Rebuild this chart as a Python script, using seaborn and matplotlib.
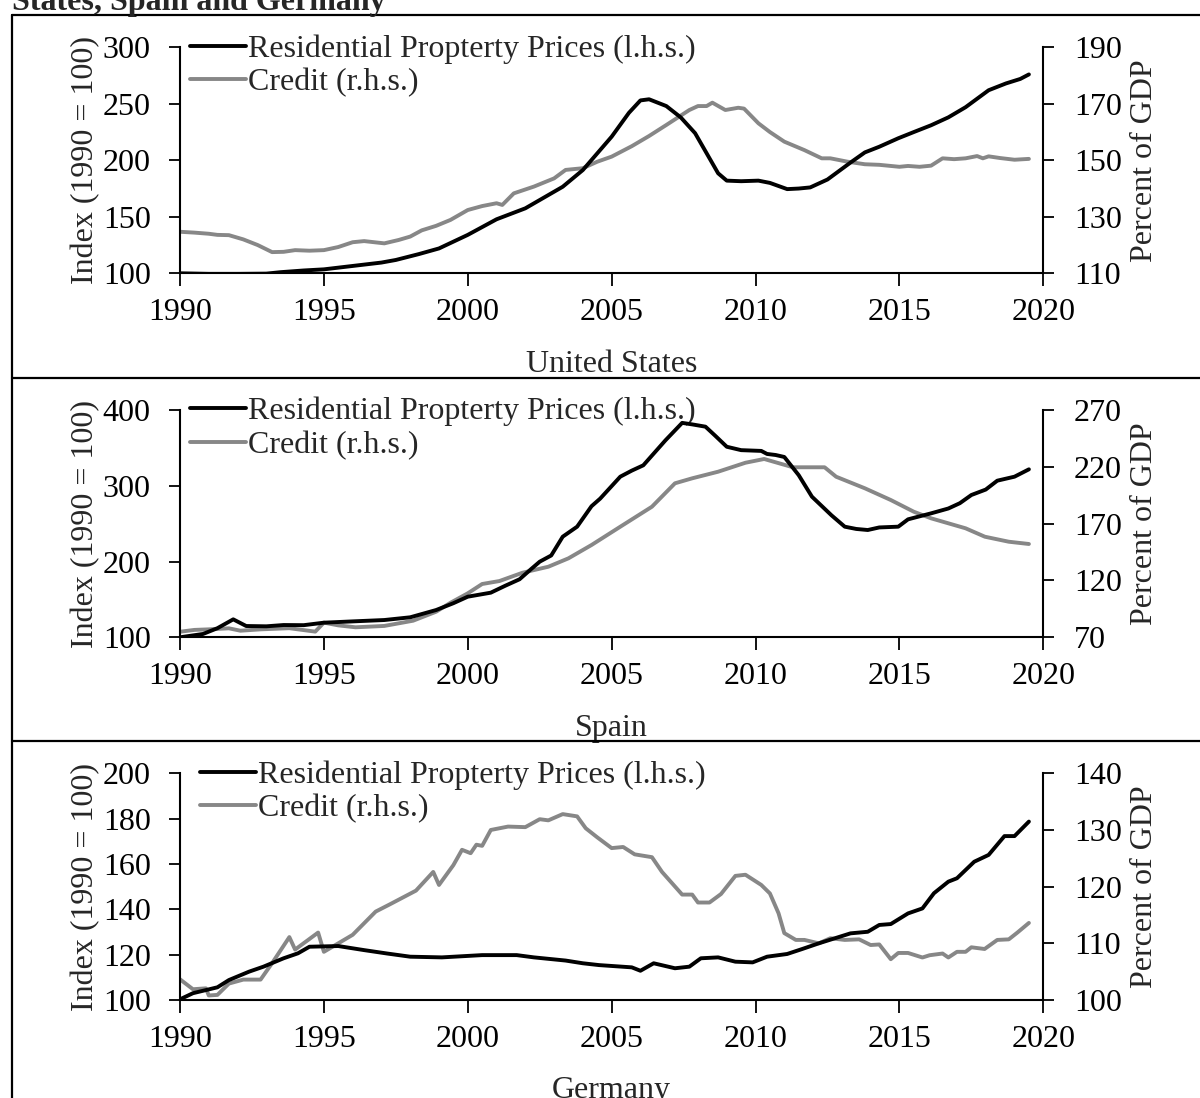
import numpy as np
import pandas as pd
import matplotlib
matplotlib.use("Agg")
import matplotlib.pyplot as plt
from matplotlib.lines import Line2D
import seaborn as sns

# ---------------- data ----------------
us_price_year = [1990.0, 1991.0, 1992.0, 1993.0, 1993.5, 1994.3, 1995.0, 1996.0, 1997.0, 1997.5,
                 1998.3, 1999.0, 2000.0, 2001.0, 2002.0, 2003.3, 2004.0, 2005.0, 2005.6, 2006.0,
                 2006.3, 2006.9, 2007.4, 2007.9, 2008.7, 2009.0, 2009.5, 2010.1, 2010.5, 2011.1,
                 2011.5, 2011.9, 2012.5, 2013.3, 2013.8, 2014.3, 2014.96, 2015.5, 2016.1, 2016.7,
                 2017.3, 2018.1, 2018.7, 2019.2, 2019.5]
us_price = [100, 99.5, 99.5, 99.7, 101, 102.5, 103.5, 106.5, 109.5, 111.8,
            117, 122, 134, 147.8, 157.5, 176.6, 191.4, 220.9, 242, 253,
            254, 248, 238, 224, 188.5, 182, 181.5, 182, 180, 174.5,
            175, 176, 183, 198, 207, 212, 219.5, 225, 231, 238,
            247, 262, 268, 272, 276]

us_credit_year = [1990.0, 1990.5, 1991.0, 1991.3, 1991.7, 1992.2, 1992.7, 1993.2, 1993.6, 1994.0,
                  1994.5, 1995.0, 1995.5, 1996.0, 1996.4, 1997.1, 1997.6, 1998.0, 1998.4, 1998.9,
                  1999.4, 2000.0, 2000.5, 2001.0, 2001.2, 2001.6, 2002.3, 2003.0, 2003.4, 2004.0,
                  2004.5, 2005.0, 2005.7, 2006.3, 2006.9, 2007.7, 2008.0, 2008.3, 2008.5, 2008.95,
                  2009.4, 2009.6, 2010.1, 2010.5, 2011.0, 2011.7, 2012.3, 2012.6, 2013.2, 2013.8,
                  2014.3, 2015.0, 2015.3, 2015.7, 2016.1, 2016.5, 2016.9, 2017.3, 2017.7, 2017.9,
                  2018.1, 2018.5, 2019.0, 2019.5]
us_credit = [124.7, 124.4, 124, 123.6, 123.5, 122, 120, 117.5, 117.6, 118.2,
             118, 118.2, 119.3, 121, 121.4, 120.6, 121.8, 123, 125.2, 126.8,
             128.9, 132.4, 133.8, 134.8, 134.2, 138.3, 140.7, 143.6, 146.6, 147.2,
             149.5, 151.3, 155, 158.6, 162.5, 167.8, 169.2, 169.2, 170.4, 167.8,
             168.6, 168.3, 163.1, 160, 156.6, 153.6, 150.7, 150.7, 149.5, 148.6,
             148.4, 147.7, 148, 147.7, 148.1, 150.7, 150.4, 150.7, 151.5, 150.7,
             151.4, 150.8, 150.2, 150.5]

es_price_year = [1990.0, 1990.8, 1991.3, 1991.85, 1992.3, 1993.0, 1993.6, 1994.3, 1995.0, 1996.0,
                 1997.1, 1998.0, 1998.9, 1999.5, 2000.0, 2000.8, 2001.3, 2001.8, 2002.2, 2002.5,
                 2002.9, 2003.3, 2003.8, 2004.3, 2004.6, 2005.3, 2005.7, 2006.1, 2006.87, 2007.45,
                 2007.8, 2008.26, 2008.6, 2009.0, 2009.5, 2010.2, 2010.4, 2010.7, 2011.0, 2011.5,
                 2011.96, 2012.64, 2013.1, 2013.5, 2013.9, 2014.3, 2014.96, 2015.3, 2016.1, 2016.7,
                 2017.1, 2017.5, 2018.0, 2018.4, 2019.0, 2019.5]
es_price = [100, 104.4, 112, 123.7, 114.9, 114.5, 116.2, 116, 119.3, 121,
            122.8, 126.4, 136, 145, 153.6, 158.9, 168, 176.6, 190, 199.8,
            208, 232.8, 246, 273, 283, 312, 320, 327, 360, 383,
            381, 378, 366, 351.5, 347, 346, 342, 340.6, 338, 314,
            285.6, 261, 246, 243, 241.6, 245, 246, 255.7, 263.6, 270,
            277, 287.8, 295, 306.7, 312, 321.7]

es_credit_year = [1990.0, 1990.5, 1991.0, 1991.7, 1992.1, 1992.8, 1993.8, 1994.7, 1995.0, 1995.5,
                  1996.1, 1997.1, 1998.1, 1998.9, 1999.4, 2000.0, 2000.5, 2001.1, 2001.9, 2002.8,
                  2003.5, 2004.3, 2005.3, 2006.4, 2007.2, 2007.8, 2008.7, 2009.65, 2010.3, 2011.3,
                  2012.4, 2012.8, 2013.8, 2014.7, 2015.5, 2016.1, 2017.3, 2017.97, 2018.8, 2019.5]
es_credit = [74.9, 76.5, 77, 77.9, 75.8, 77, 78, 75, 82.9, 80.5,
             78.8, 80, 84.6, 92.5, 100.4, 108.7, 116.9, 119.5, 126.8, 132.1,
             139.5, 151.2, 167.3, 184.9, 205.5, 209.9, 215.7, 223.6, 226.9, 219.6,
             219.6, 211.3, 201.1, 190.8, 180.5, 174.7, 165.9, 158.5, 154.1, 152.1]

de_price_year = [1990.0, 1990.45, 1991.3, 1991.7, 1992.4, 1992.9, 1993.6, 1994.1, 1994.5, 1995.5,
                 1996.4, 1997.2, 1998.0, 1999.1, 2000.5, 2001.7, 2002.3, 2003.4, 2004.0, 2004.56,
                 2005.7, 2006.0, 2006.46, 2007.2, 2007.7, 2008.1, 2008.7, 2009.3, 2009.9, 2010.4,
                 2011.1, 2011.6, 2012.2, 2013.3, 2013.9, 2014.3, 2014.7, 2015.3, 2015.8, 2016.2,
                 2016.7, 2017.0, 2017.6, 2018.1, 2018.65, 2019.0, 2019.5]
de_price = [100.3, 103, 105.6, 108.8, 112.5, 114.7, 118.4, 120.6, 123.5, 123.8,
            122, 120.5, 119.1, 118.8, 119.8, 119.8, 118.8, 117.4, 116.2, 115.4,
            114.4, 112.9, 116.2, 114, 114.7, 118.4, 118.8, 116.9, 116.6, 119.1,
            120.3, 122.4, 125, 129.4, 130.1, 133.1, 133.5, 138.2, 140.4, 147.1,
            152.2, 153.7, 161, 164, 172.3, 172.3, 178.7]

de_credit_year = [1990.0, 1990.45, 1990.9, 1991.0, 1991.3, 1991.7, 1992.2, 1992.8, 1993.2, 1993.8,
                  1994.0, 1994.8, 1995.0, 1995.5, 1996.0, 1996.8, 1997.3, 1997.9, 1998.2, 1998.8,
                  1999.0, 1999.5, 1999.8, 2000.1, 2000.3, 2000.5, 2000.8, 2001.4, 2002.0, 2002.5,
                  2002.8, 2003.3, 2003.8, 2004.1, 2004.5, 2005.0, 2005.4, 2005.8, 2006.4, 2006.75,
                  2007.45, 2007.8, 2008.0, 2008.4, 2008.8, 2009.3, 2009.65, 2010.2, 2010.5, 2010.8,
                  2011.0, 2011.4, 2011.7, 2012.2, 2012.6, 2013.1, 2013.6, 2014.0, 2014.3, 2014.7,
                  2014.96, 2015.3, 2015.8, 2016.05, 2016.5, 2016.7, 2017.0, 2017.3, 2017.5, 2017.96,
                  2018.4, 2018.8, 2019.1, 2019.5]
de_credit = [103.65, 101.9, 102.06, 100.8, 100.9, 102.9, 103.6, 103.6, 106.5, 111.1,
             108.9, 111.9, 108.5, 110, 111.5, 115.6, 116.9, 118.5, 119.3, 122.6,
             120.3, 123.8, 126.5, 125.9, 127.4, 127.2, 130, 130.6, 130.5, 131.9,
             131.7, 132.8, 132.4, 130.3, 128.7, 126.8, 127, 125.7, 125.2, 122.6,
             118.6, 118.6, 117.2, 117.2, 118.7, 121.9, 122.1, 120.3, 118.8, 115.3,
             111.8, 110.6, 110.6, 110, 110.9, 110.6, 110.7, 109.7, 109.8, 107.2,
             108.3, 108.3, 107.5, 107.9, 108.2, 107.5, 108.5, 108.5, 109.3, 109,
             110.6, 110.7, 111.9, 113.6]

panel_names = ["United States", "Spain", "Germany"]
left_ticks = [[100, 150, 200, 250, 300], [100, 200, 300, 400], [100, 120, 140, 160, 180, 200]]
right_ticks = [[110, 130, 150, 170, 190], [70, 120, 170, 220, 270], [100, 110, 120, 130, 140]]
x_ticks = [1990, 1995, 2000, 2005, 2010, 2015, 2020]
title_text = "States, Spain and Germany"
legend_labels = ["Residential Propterty Prices (l.h.s.)", "Credit (r.h.s.)"]

# ---------------- style ----------------
sns.set_theme(style="white")
plt.rcParams['font.family'] = ['Liberation Serif', 'DejaVu Serif']
plt.rcParams['axes.linewidth'] = 1.5
plt.rcParams['xtick.major.width'] = 1.3
plt.rcParams['ytick.major.width'] = 1.3

W, H = 1200, 1098
fig = plt.figure(figsize=(W / 100, H / 100), dpi=100)

FS = 23
BLACK = "#000000"
GRAY = "#878787"
LW = 2.8

# panel geometry in pixels: (top, bottom)
panels_px = [(47.3, 273.3), (410.0, 637.3), (773.3, 1000.0)]
x_left_px, x_right_px = 180.0, 1043.3
legend_x_px = [190, 190, 200]

series = [
    (us_price_year, us_price, us_credit_year, us_credit),
    (es_price_year, es_price, es_credit_year, es_credit),
    (de_price_year, de_price, de_credit_year, de_credit),
]

for i, ((py, pv, cy, cv), (top, bot)) in enumerate(zip(series, panels_px)):
    ax = fig.add_axes([x_left_px / W, 1 - bot / H, (x_right_px - x_left_px) / W, (bot - top) / H])
    ax2 = ax.twinx()
    dfp = pd.DataFrame({"year": py, "value": pv})
    dfc = pd.DataFrame({"year": cy, "value": cv})
    sns.lineplot(data=dfc, x="year", y="value", ax=ax2, color=GRAY, lw=LW, zorder=2)
    sns.lineplot(data=dfp, x="year", y="value", ax=ax, color=BLACK, lw=LW, zorder=3)
    ax.set_zorder(ax2.get_zorder() + 1)
    ax.patch.set_visible(False)

    lt, rt = left_ticks[i], right_ticks[i]
    ax.set_xlim(1990, 2020)
    ax.set_ylim(lt[0], lt[-1])
    ax2.set_ylim(rt[0], rt[-1])
    ax.set_xticks(x_ticks)
    ax.set_yticks(lt)
    ax2.set_yticks(rt)
    ax.set_xticklabels([str(t) for t in x_ticks], fontsize=FS)
    ax.set_yticklabels([str(t) for t in lt], fontsize=FS)
    ax2.set_yticklabels([str(t) for t in rt], fontsize=FS)

    for a in (ax, ax2):
        a.spines['top'].set_visible(False)
        for s in ('left', 'right', 'bottom'):
            a.spines[s].set_color('black')
            a.spines[s].set_linewidth(1.5)
        a.grid(False)
    ax.spines['right'].set_visible(False)
    ax2.spines['left'].set_visible(False)
    ax2.spines['bottom'].set_visible(False)

    ax.tick_params(axis='x', direction='out', length=9, pad=9, colors='black', bottom=True)
    ax.tick_params(axis='y', direction='out', length=8, pad=13, colors='black', left=True)
    ax2.tick_params(axis='y', direction='out', length=8, pad=14, colors='black', right=True)

    ax.set_xlabel(panel_names[i], fontsize=FS, labelpad=16)
    ax.set_ylabel("Index (1990 = 100)", fontsize=FS, labelpad=2)
    ax2.set_ylabel("Percent of GDP", fontsize=FS, labelpad=6)

    handles = [Line2D([0], [0], color=BLACK, lw=LW), Line2D([0], [0], color=GRAY, lw=LW)]
    ax2.legend(handles, legend_labels, loc='upper left',
               bbox_to_anchor=(legend_x_px[i] / W, 1 - (top - 13) / H),
               bbox_transform=fig.transFigure, frameon=False, fontsize=FS,
               handlelength=1.75, handletextpad=0.05, borderpad=0, borderaxespad=0,
               labelspacing=0.13)

# ---------------- frame lines ----------------
def hline(y_px, x0=12, x1=1200):
    fig.add_artist(Line2D([x0 / W, x1 / W], [1 - y_px / H, 1 - y_px / H],
                          transform=fig.transFigure, color='black', lw=1.6))

hline(15)
hline(378)
hline(741)
fig.add_artist(Line2D([12 / W, 12 / W], [1 - 15 / H, 0], transform=fig.transFigure,
                      color='black', lw=1.6))

fig.text(12 / W, 1 - 10 / H, title_text, fontsize=FS, fontweight='bold',
         ha='left', va='baseline')

fig.savefig("out.png", dpi=100)
